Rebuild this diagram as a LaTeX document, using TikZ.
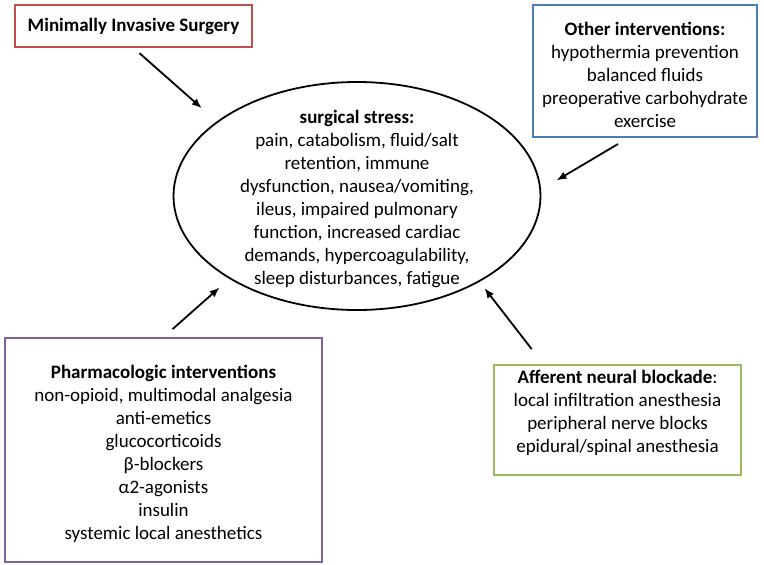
\documentclass[tikz,border=0pt]{standalone}
\usepackage{fontspec}
\setmainfont{Carlito}
\usetikzlibrary{shapes.geometric,arrows.meta}
\definecolor{boxred}{RGB}{192,80,77}
\definecolor{boxblue}{RGB}{74,126,187}
\definecolor{boxpurple}{RGB}{128,100,162}
\definecolor{boxgreen}{RGB}{155,187,89}
\begin{document}
\begin{tikzpicture}[x=1pt,y=-1pt,
		box/.style={draw,line width=1.8pt,align=center,inner sep=0pt,font=\fontsize{19}{23}\selectfont},
		arr/.style={line width=1.8pt,-{Latex[length=10pt,width=8pt]}}]
		\useasboundingbox (0,0) rectangle (764,565);

		\node[box,draw=boxred,minimum width=237,minimum height=42] (mis) at (133.5,26) {\textbf{Minimally Invasive Surgery}};
		\node[box,draw=boxblue,minimum width=224,minimum height=132,text height=112pt,text depth=0pt] (other) at (645,71) {\textbf{Other interventions:}\\hypothermia prevention\\balanced fluids\\preoperative carbohydrate\\exercise};
		\node[box,draw=boxpurple,minimum width=317,minimum height=224,text height=178pt,text depth=0pt] (pharm) at (163.5,450) {\textbf{Pharmacologic interventions}\\non-opioid, multimodal analgesia\\anti-emetics\\glucocorticoids\\β-blockers\\α2-agonists\\insulin\\systemic local anesthetics};
		\node[box,draw=boxgreen,minimum width=247,minimum height=110,text height=64pt,text depth=0pt] (afferent) at (617.5,420) {\textbf{Afferent neural blockade}:\\local infiltration anesthesia\\peripheral nerve blocks\\epidural/spinal anesthesia};

		% centre
		\node[draw,ellipse,line width=1.8pt,minimum width=367,minimum height=228,inner sep=0pt] (stress) at (357,196) {};
		\node[box,draw=none] (stresstext) at (357,198.5) {\textbf{surgical stress:}\\pain, catabolism, fluid/salt\\retention, immune\\dysfunction, nausea/vomiting,\\ileus, impaired pulmonary\\function, increased cardiac\\demands, hypercoagulability,\\sleep disturbances, fatigue};

		\draw[arr,shorten <=8pt,shorten >=20pt] (mis.south) -- (stress.152);
		\draw[arr,shorten <=12pt,shorten >=18pt] (other.256) -- (stress.2);
		\draw[arr,shorten <=12pt,shorten >=13pt] (pharm.north) -- (stress.213);
		\draw[arr,shorten <=19pt,shorten >=8pt] (afferent.143) -- (stress.325);
\end{tikzpicture}
\end{document}
